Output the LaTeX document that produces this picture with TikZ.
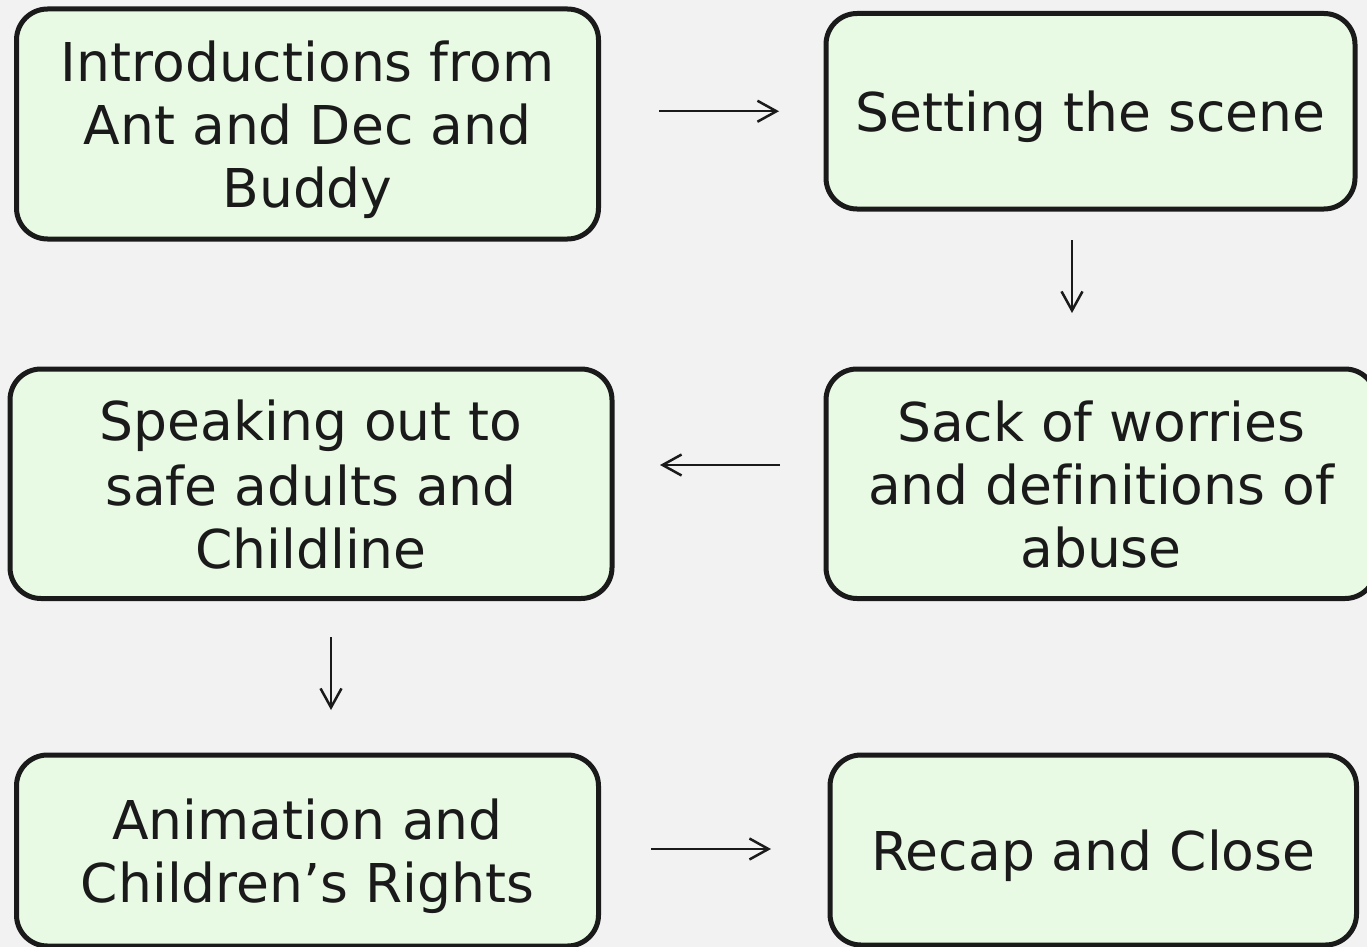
\documentclass[tikz,border=0pt]{standalone}
\usepackage{fontspec}
\setmainfont[Ligatures=NoCommon]{DejaVu Sans}
\usetikzlibrary{arrows.meta,calc}
\definecolor{bgc}{HTML}{F2F2F2}
\definecolor{boxfill}{HTML}{E8F9E4}
\definecolor{ink}{HTML}{1A1A1A}
\newcommand\lstrut{\rule[-10.5pt]{0pt}{63pt}}
\tikzset{
  stagebox/.style={draw=ink, fill=boxfill, line width=5pt, rounded corners=31pt,
    inner sep=0pt, outer sep=0pt, align=center, text=ink,
    font=\fontsize{53.5pt}{63pt}\selectfont},
  flowarrow/.style={draw=ink, line width=2.5pt,
    -{Straight Barb[length=19pt,width=21pt]}}
}
\begin{document}
\begin{tikzpicture}[x=1pt,y=-1pt]
\useasboundingbox (0,0) rectangle (1367,947);
\fill[bgc] (0,0) rectangle (1367,947);
\clip (0,0) rectangle (1367,947);
\node[stagebox, minimum width=582pt, minimum height=230pt] (intro) at (307.5,124)
  {\lstrut Introductions from\\\lstrut Ant and Dec and\\\lstrut Buddy};
\node[stagebox, minimum width=529pt, minimum height=195.5pt] (scene) at (1090.5,111.25)
  {\lstrut Setting the scene};
\node[stagebox, minimum width=550pt, minimum height=229.5pt] (sack) at (1101,483.75)
  {\lstrut Sack of worries\\\lstrut and definitions of\\\lstrut abuse};
\node[stagebox, minimum width=602pt, minimum height=229.5pt] (speak) at (311,483.75)
  {\lstrut Speaking out to\\\lstrut safe adults and\\\lstrut Childline};
\node[stagebox, minimum width=582pt, minimum height=191pt] (anim) at (307.5,850.5)
  {\lstrut Animation and\\\lstrut Children’s Rights};
\node[stagebox, minimum width=526.5pt, minimum height=190pt] (recap) at (1093.25,850)
  {\lstrut Recap and Close};
\draw[flowarrow] ($(intro.east|-scene.west)+(60.5,0)$) -- ($(scene.west)+(-47,0)$);
\draw[flowarrow] ($(scene.south)+(-18.5,31)$) -- ($(sack.north)+(-29,-56)$);
\draw[flowarrow] ($(sack.west)+(-46,-18.75)$) -- ($(speak.east)+(48,-18.75)$);
\draw[flowarrow] ($(speak.south)+(20,38.5)$) -- ($(anim.north)+(23.5,-45)$);
\draw[flowarrow] ($(anim.east)+(52.5,-1.5)$) -- ($(recap.west)+(-59,-1)$);
\end{tikzpicture}
\end{document}
